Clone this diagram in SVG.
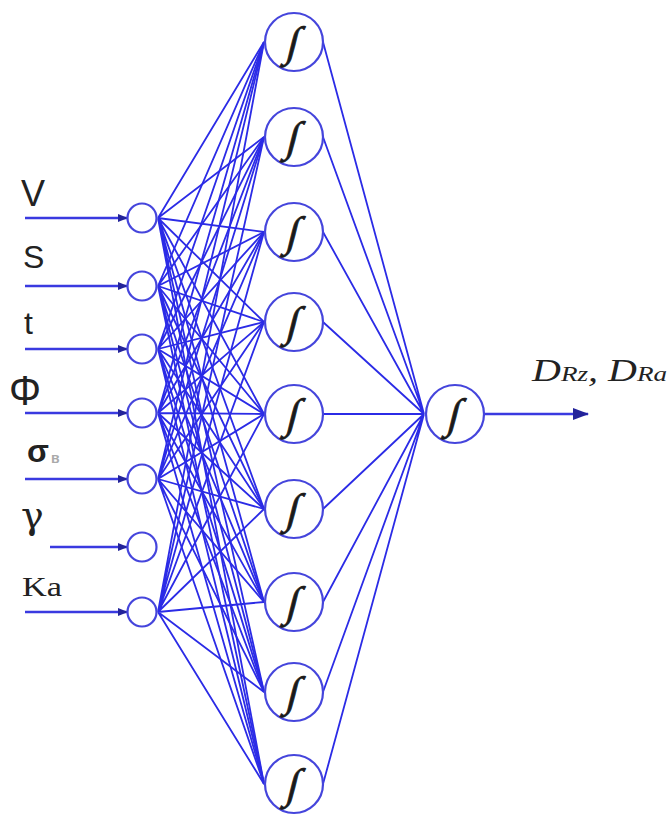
<svg xmlns="http://www.w3.org/2000/svg" width="670" height="816" viewBox="0 0 670 816">
<defs>
<marker id="ah" markerWidth="10" markerHeight="10" refX="9" refY="5" orient="auto" markerUnits="userSpaceOnUse">
<path d="M0,1 L10,5 L0,9 Z" fill="#23239a"/>
</marker>
<marker id="ah2" markerWidth="16" markerHeight="12" refX="15" refY="6" orient="auto" markerUnits="userSpaceOnUse">
<path d="M0,0 L16,6 L0,12 Z" fill="#23239a"/>
</marker>
</defs>
<style>
.c{fill:#fff;stroke:#4545dc;stroke-width:2.2}
.l{stroke:#2b2be6;stroke-width:1.8;fill:none}
.in{stroke:#3a3ae0;stroke-width:2.4;fill:none}
.ig{font-family:"Liberation Serif",serif;font-size:42px;fill:#1a1a1a;stroke:#1a1a1a;stroke-width:0.8;text-anchor:middle}
.sans{font-family:"Liberation Sans",Arial,sans-serif;fill:#222}
.serif{font-family:"Liberation Serif","Times New Roman",serif;fill:#222}
</style>
<rect width="670" height="816" fill="#fff"/>
<g id="connectors">
<g id="input-to-hidden">
<path class="l" d="M158,218 L264,42 M158,218 L264,137 M158,218 L264,232 M158,218 L264,322 M158,218 L264,414 M158,218 L264,509 M158,218 L264,602 M158,218 L264,692 M158,218 L264,784"/>
<path class="l" d="M158,286 L264,42 M158,286 L264,137 M158,286 L264,232 M158,286 L264,322 M158,286 L264,414 M158,286 L264,509 M158,286 L264,602 M158,286 L264,692 M158,286 L264,784"/>
<path class="l" d="M158,349 L264,42 M158,349 L264,137 M158,349 L264,232 M158,349 L264,322 M158,349 L264,414 M158,349 L264,509 M158,349 L264,602 M158,349 L264,692 M158,349 L264,784"/>
<path class="l" d="M158,413 L264,42 M158,413 L264,137 M158,413 L264,232 M158,413 L264,322 M158,413 L264,414 M158,413 L264,509 M158,413 L264,602 M158,413 L264,692 M158,413 L264,784"/>
<path class="l" d="M158,479 L264,42 M158,479 L264,137 M158,479 L264,232 M158,479 L264,322 M158,479 L264,414 M158,479 L264,509 M158,479 L264,602 M158,479 L264,692 M158,479 L264,784"/>
<path class="l" d="M158,612 L264,42 M158,612 L264,137 M158,612 L264,232 M158,612 L264,322 M158,612 L264,414 M158,612 L264,509 M158,612 L264,602 M158,612 L264,692 M158,612 L264,784"/>
</g>
<g id="hidden-to-output">
<path class="l" d="M323,42 L424,414 M323,137 L424,414 M323,232 L424,414 M323,322 L424,414 M323,414 L424,414 M323,509 L424,414 M323,602 L424,414 M323,692 L424,414 M323,784 L424,414"/>
</g>
<g id="inputs-arrows">
<line class="in" x1="25" y1="218" x2="127" y2="218" marker-end="url(#ah)"/>
<line class="in" x1="25" y1="286" x2="127" y2="286" marker-end="url(#ah)"/>
<line class="in" x1="25" y1="349" x2="127" y2="349" marker-end="url(#ah)"/>
<line class="in" x1="25" y1="413" x2="127" y2="413" marker-end="url(#ah)"/>
<line class="in" x1="25" y1="479" x2="127" y2="479" marker-end="url(#ah)"/>
<line class="in" x1="50" y1="547" x2="127" y2="547" marker-end="url(#ah)"/>
<line class="in" x1="25" y1="612" x2="127" y2="612" marker-end="url(#ah)"/>
</g>
<line id="output-arrow" class="in" x1="484" y1="414" x2="588" y2="414" marker-end="url(#ah2)"/>
</g>
<g id="input-nodes">
<g id="in-V"><circle class="c" cx="142" cy="218" r="14.5"/><text class="sans" x="21" y="206" font-size="36">V</text></g>
<g id="in-S"><circle class="c" cx="142" cy="286" r="14.5"/><text class="sans" x="23" y="268" font-size="32">S</text></g>
<g id="in-t"><circle class="c" cx="142" cy="349" r="14.5"/><text class="sans" x="24" y="334" font-size="32">t</text></g>
<g id="in-phi"><circle class="c" cx="142" cy="413" r="14.5"/><text class="sans" x="9" y="405" font-size="42" textLength="32" lengthAdjust="spacingAndGlyphs">Φ</text></g>
<g id="in-sigma"><circle class="c" cx="142" cy="479" r="14.5"/><text class="sans" x="27" y="462" font-size="32" font-weight="bold">σ</text><text class="sans" x="51" y="463" font-size="14" font-weight="bold" style="fill:#aaa">в</text></g>
<g id="in-gamma"><circle class="c" cx="142" cy="547" r="14.5"/><text x="21" y="528" font-size="38" style="font-family:'DejaVu Serif','Liberation Serif',serif;fill:#222">γ</text></g>
<g id="in-Ka"><circle class="c" cx="142" cy="612" r="14.5"/><text class="serif" x="22" y="596" font-size="27" textLength="40" lengthAdjust="spacingAndGlyphs">Ka</text></g>
</g>
<g id="hidden-nodes">
<g id="h1"><circle class="c" cx="294" cy="42" r="29"/><text class="ig" transform="translate(294,42) skewX(-14)" y="14">∫</text></g>
<g id="h2"><circle class="c" cx="294" cy="137" r="29"/><text class="ig" transform="translate(294,137) skewX(-14)" y="14">∫</text></g>
<g id="h3"><circle class="c" cx="294" cy="232" r="29"/><text class="ig" transform="translate(294,232) skewX(-14)" y="14">∫</text></g>
<g id="h4"><circle class="c" cx="294" cy="322" r="29"/><text class="ig" transform="translate(294,322) skewX(-14)" y="14">∫</text></g>
<g id="h5"><circle class="c" cx="294" cy="414" r="29"/><text class="ig" transform="translate(294,414) skewX(-14)" y="14">∫</text></g>
<g id="h6"><circle class="c" cx="294" cy="509" r="29"/><text class="ig" transform="translate(294,509) skewX(-14)" y="14">∫</text></g>
<g id="h7"><circle class="c" cx="294" cy="602" r="29"/><text class="ig" transform="translate(294,602) skewX(-14)" y="14">∫</text></g>
<g id="h8"><circle class="c" cx="294" cy="692" r="29"/><text class="ig" transform="translate(294,692) skewX(-14)" y="14">∫</text></g>
<g id="h9"><circle class="c" cx="294" cy="784" r="29"/><text class="ig" transform="translate(294,784) skewX(-14)" y="14">∫</text></g>
</g>
<g id="output-node">
<circle class="c" cx="455" cy="414" r="29"/><text class="ig" transform="translate(455,414) skewX(-14)" y="14">∫</text>
<text class="serif" x="532" y="381" font-style="italic" font-size="31" textLength="135" lengthAdjust="spacingAndGlyphs">D<tspan font-size="21">Rz</tspan>, D<tspan font-size="21">Ra</tspan></text>
</g>
</svg>
